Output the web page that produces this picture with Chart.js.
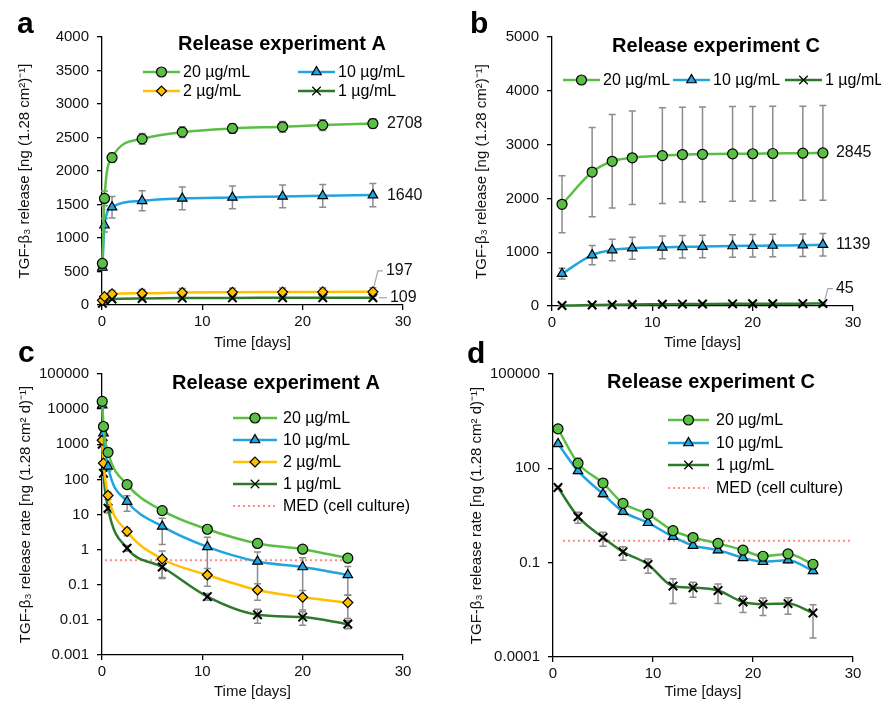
<!DOCTYPE html>
<html>
<head>
<meta charset="utf-8">
<script src="https://cdn.jsdelivr.net/npm/chart.js@4.4.0/dist/chart.umd.min.js"></script>
<style>
  body { margin: 0; background: #fff; }
  #wrap { position: relative; width: 881px; height: 705px; overflow: hidden; background: #fff; }
  canvas { position: absolute; }
</style>
</head>
<body>
<div id="wrap">
  <canvas id="cA" width="440" height="352" style="left:0;top:0"></canvas>
  <canvas id="cB" width="441" height="352" style="left:440px;top:0"></canvas>
  <canvas id="cC" width="440" height="375" style="left:0;top:330px"></canvas>
  <canvas id="cD" width="441" height="375" style="left:440px;top:330px"></canvas>
</div>
<script>
const FONT = "'Liberation Sans', Arial, sans-serif";
Chart.defaults.font.family = FONT;
Chart.defaults.color = '#111';

// ---- data ----
const xTicks = [0, 10, 20, 30];
const yTicksA = [0, 500, 1000, 1500, 2000, 2500, 3000, 3500, 4000];
const yTicksB = [0, 1000, 2000, 3000, 4000, 5000];
const yTicksC = [0.001, 0.01, 0.1, 1, 10, 100, 1000, 10000, 100000];
const yTicksD = [0.0001, 0.1, 100, 100000];

// cumulative release, experiment A
const timeA = [0.04, 0.25, 1, 4, 8, 13, 18, 22, 27];
const relA20 = [620, 1590, 2200, 2480, 2580, 2635, 2660, 2685, 2708];
const errA20 = [30, 110, 70, 80, 80, 70, 80, 80, 70];
const relA10 = [560, 1190, 1460, 1555, 1590, 1605, 1620, 1630, 1640];
const errA10 = [40, 100, 160, 150, 170, 170, 170, 170, 175];
const relA2 = [70, 125, 165, 175, 185, 190, 193, 195, 197];
const errA2 = [15, 40, 50, 55, 60, 60, 60, 60, 60];
const relA1 = [25, 65, 90, 98, 103, 106, 107, 108, 109];
const errA1 = [5, 15, 20, 20, 20, 20, 20, 20, 20];

// cumulative release, experiment C
const timeC = [1, 4, 6, 8, 11, 13, 15, 18, 20, 22, 25, 27];
const relC20 = [1890, 2490, 2690, 2755, 2795, 2815, 2820, 2828, 2830, 2835, 2840, 2845];
const errC20 = [530, 830, 870, 870, 890, 880, 880, 880, 880, 880, 875, 880];
const relC10 = [600, 945, 1040, 1075, 1090, 1100, 1105, 1115, 1120, 1125, 1130, 1139];
const errC10 = [100, 180, 200, 205, 210, 210, 210, 210, 210, 210, 210, 210];
const relC1 = [8, 18, 24, 28, 32, 35, 37, 40, 41, 43, 44, 45];
const errC1 = [3, 5, 6, 6, 7, 7, 7, 7, 7, 7, 7, 7];

// release rate, experiment A
const timeRateA = [0.02, 0.15, 0.6, 2.5, 6, 10.5, 15.5, 20, 24.5];
const rateA20 = [16600, 3200, 590, 71, 12.9, 3.8, 1.5, 1.03, 0.57];
const errRateA20 = [2000, 400, 80, 10, 2, 0.5, 0.2, 0.1, 0.08];
const rateA10 = [13000, 2080, 234, 23.4, 4.6, 1.2, 0.46, 0.32, 0.19];
const errRateA10 = [1500, 300, 60, 11, 3.2, 1.05, 0.4, 0.27, 0.14];
const rateA2 = [1300, 290, 35, 3.3, 0.54, 0.19, 0.071, 0.044, 0.031];
const errRateA2 = [150, 40, 8, 0.8, 0.38, 0.1, 0.035, 0.025, 0.02];
const rateA1 = [1000, 150, 15, 1.1, 0.32, 0.046, 0.014, 0.012, 0.0076];
const errRateA1 = [100, 20, 4, 0.2, 0.17, 0.01, 0.006, 0.005, 0.002];

// release rate, experiment C
const timeRateC = [0.5, 2.5, 5, 7, 9.5, 12, 14, 16.5, 19, 21, 23.5, 26];
const rateC20 = [1800, 145, 34, 7.7, 3.5, 1.04, 0.63, 0.41, 0.25, 0.16, 0.19, 0.089];
const errRateC20 = [100, 70, 8, 1.5, 0.6, 0.2, 0.1, 0.06, 0.04, 0.03, 0.03, 0.015];
const rateC10 = [600, 83, 15.3, 4.2, 1.86, 0.67, 0.35, 0.25, 0.143, 0.107, 0.12, 0.055];
const errRateC10 = [50, 15, 3, 0.8, 0.3, 0.1, 0.05, 0.04, 0.02, 0.015, 0.02, 0.01];
const rateC1 = [24.5, 2.9, 0.63, 0.22, 0.088, 0.018, 0.016, 0.013, 0.0056, 0.0048, 0.005, 0.0025];
const errRateC1 = [2, 1.1, 0.3, 0.1, 0.042, 0.013, 0.008, 0.008, 0.003, 0.0027, 0.0027, 0.0021];

// minimal effective dose line
const medTimesA = [0.3, 24.5];
const medTimesC = [1, 30];
const medValue = [0.5, 0.5];

const GREEN = '#5CBF45', BLUE = '#22A4DE', YELLOW = '#FFC000', DKGREEN = '#2E7A2B', MEDRED = '#FF8A8A';

function pts(xs, ys) { return xs.map((x, i) => ({ x: x, y: ys[i] })); }

function series(label, xs, ys, errs, color, style, endLabel) {
  const fills = { circle: GREEN, triangle: BLUE, rectRot: YELLOW, crossRot: '#000' };
  const radius = { circle: 5, triangle: 5.5, rectRot: 5, crossRot: 6 };
  return {
    label: label,
    data: pts(xs, ys),
    errors: errs,
    endLabel: endLabel,
    borderColor: color,
    borderWidth: 2.5,
    cubicInterpolationMode: 'monotone',
    pointStyle: style,
    pointRadius: radius[style],
    pointBackgroundColor: fills[style],
    pointBorderColor: '#000',
    pointBorderWidth: style === 'crossRot' ? 2 : 1.2,
    clip: false
  };
}

function medSeries(xs) {
  return {
    label: 'MED (cell culture)',
    data: pts(xs, medValue),
    borderColor: MEDRED,
    borderWidth: 2,
    borderDash: [2, 3],
    pointRadius: 0,
    clip: false
  };
}

// error bars drawn under the lines
const errorBars = {
  id: 'errorBars',
  beforeDatasetsDraw(chart) {
    const ctx = chart.ctx, xs = chart.scales.x, ys = chart.scales.y;
    ctx.save();
    ctx.strokeStyle = '#8C8C8C';
    ctx.lineWidth = 1.5;
    chart.data.datasets.forEach(ds => {
      if (!ds.errors) return;
      ds.data.forEach((p, i) => {
        const e = ds.errors[i];
        const x = xs.getPixelForValue(p.x);
        let lo = p.y - e;
        if (lo <= 0) lo = ys.min;
        const y1 = ys.getPixelForValue(p.y + e), y2 = ys.getPixelForValue(lo);
        ctx.beginPath();
        ctx.moveTo(x, y1); ctx.lineTo(x, y2);
        ctx.moveTo(x - 3.5, y1); ctx.lineTo(x + 3.5, y1);
        ctx.moveTo(x - 3.5, y2); ctx.lineTo(x + 3.5, y2);
        ctx.stroke();
      });
    });
    ctx.restore();
  }
};

// panel letter, title, legend and end labels
function deco(cfg) {
  return {
    id: 'deco',
    afterDraw(chart) {
      const ctx = chart.ctx, xs = chart.scales.x, ys = chart.scales.y;
      const dss = chart.data.datasets;
      ctx.save();
      ctx.fillStyle = '#000';
      ctx.font = 'bold 30px ' + FONT;
      ctx.textBaseline = 'alphabetic';
      ctx.textAlign = 'left';
      ctx.fillText(cfg.letter, cfg.letterPos[0], cfg.letterPos[1]);

      ctx.font = 'bold 20px ' + FONT;
      ctx.textAlign = 'center';
      ctx.textBaseline = 'middle';
      ctx.fillText(cfg.title, cfg.titlePos[0], cfg.titlePos[1]);

      // legend
      ctx.font = '16px ' + FONT;
      ctx.textAlign = 'left';
      cfg.legend.forEach(([i, x, y]) => {
        const ds = dss[i];
        ctx.save();
        ctx.strokeStyle = ds.borderColor;
        ctx.lineWidth = ds.borderWidth;
        if (ds.borderDash) ctx.setLineDash(ds.borderDash);
        ctx.beginPath();
        ctx.moveTo(x, y); ctx.lineTo(x + cfg.lineLen, y);
        ctx.stroke();
        ctx.restore();
        if (ds.pointRadius > 0) {
          ctx.save();
          ctx.fillStyle = ds.pointBackgroundColor;
          ctx.strokeStyle = ds.pointBorderColor;
          Chart.helpers.drawPoint(ctx, {
            pointStyle: ds.pointStyle, radius: ds.pointRadius,
            borderWidth: ds.pointBorderWidth, rotation: 0
          }, x + cfg.lineLen / 2, y);
          ctx.restore();
        }
        ctx.fillStyle = '#000';
        ctx.fillText(ds.label, x + cfg.lineLen + cfg.gap, y + 1);
      });

      // value labels at the last point
      dss.forEach(ds => {
        if (!ds.endLabel) return;
        const p = ds.data[ds.data.length - 1];
        const px = xs.getPixelForValue(p.x), py = ys.getPixelForValue(p.y);
        const L = ds.endLabel;
        if (L.leader) {
          ctx.save();
          ctx.strokeStyle = '#A6A6A6';
          ctx.lineWidth = 1.2;
          ctx.beginPath();
          L.leader.forEach(([dx, dy], k) => {
            if (k === 0) ctx.moveTo(px + dx, py + dy); else ctx.lineTo(px + dx, py + dy);
          });
          ctx.stroke();
          ctx.restore();
        }
        ctx.fillStyle = '#111';
        ctx.font = '16px ' + FONT;
        ctx.textAlign = 'left';
        ctx.textBaseline = 'middle';
        ctx.fillText(String(p.y), px + L.dx, py + (L.dy || 0));
      });
      ctx.restore();
    }
  };
}

function axes(cfg) {
  const tickFont = { size: 15 };
  const grid = { display: true, drawOnChartArea: false, drawTicks: true, tickLength: 5, color: '#000', tickColor: '#000', lineWidth: 1.3 };
  const border = { display: true, color: '#000', width: 1.3 };
  return {
    x: {
      type: 'linear', min: 0, max: 30,
      afterBuildTicks: s => { s.ticks = xTicks.map(v => ({ value: v })); },
      afterFit: s => { s.height = cfg.xH; },
      ticks: { font: tickFont, color: '#111', padding: 3, maxRotation: 0, callback: v => String(v) },
      grid: grid, border: border,
      title: { display: true, text: 'Time [days]', font: { size: 15 }, color: '#111', padding: { top: 0, bottom: 0 } }
    },
    y: {
      type: cfg.log ? 'logarithmic' : 'linear',
      min: cfg.yTicks[0], max: cfg.yTicks[cfg.yTicks.length - 1],
      afterBuildTicks: s => { s.ticks = cfg.yTicks.map(v => ({ value: v })); },
      afterFit: s => { s.width = cfg.yW; },
      ticks: { font: tickFont, color: '#111', padding: 8, callback: v => String(v) },
      grid: grid, border: border,
      title: { display: true, text: cfg.yTitle, font: { size: 15 }, color: '#111', padding: { top: 0, bottom: 0 } }
    }
  };
}

function makeChart(id, datasets, cfg) {
  new Chart(document.getElementById(id), {
    type: 'line',
    data: { datasets: datasets },
    options: {
      responsive: false,
      animation: false,
      devicePixelRatio: 1,
      layout: { padding: cfg.pad },
      plugins: { legend: { display: false }, tooltip: { enabled: false } },
      scales: axes(cfg)
    },
    plugins: [errorBars, deco(cfg)]
  });
}

const releaseTitle = 'TGF-β₃ release [ng (1.28 cm²)⁻¹]';
const rateTitle = 'TGF-β₃ release rate [ng (1.28 cm² d)⁻¹]';

makeChart('cA', [
  series('20 µg/mL', timeA, relA20, errA20, GREEN, 'circle', { dx: 14 }),
  series('10 µg/mL', timeA, relA10, errA10, BLUE, 'triangle', { dx: 14 }),
  series('2 µg/mL', timeA, relA2, errA2, YELLOW, 'rectRot', { dx: 13, dy: -21, leader: [[1, -5], [5, -21], [10, -21]] }),
  series('1 µg/mL', timeA, relA1, errA1, DKGREEN, 'crossRot', { dx: 17, leader: [[6, 0], [14, 0]] })
], {
  pad: { left: 16, right: 37, top: 37, bottom: 0 }, yW: 86, xH: 47,
  yTicks: yTicksA, yTitle: releaseTitle,
  letter: 'a', letterPos: [17, 33], title: 'Release experiment A', titlePos: [282, 44],
  legend: [[0, 143, 72], [1, 298, 72], [2, 143, 91], [3, 298, 91]], lineLen: 37, gap: 3
});

makeChart('cB', [
  series('20 µg/mL', timeC, relC20, errC20, GREEN, 'circle', { dx: 13 }),
  series('10 µg/mL', timeC, relC10, errC10, BLUE, 'triangle', { dx: 13 }),
  series('1 µg/mL', timeC, relC1, errC1, DKGREEN, 'crossRot', { dx: 13, dy: -15, leader: [[2, -4], [5, -15], [10, -15]] })
], {
  pad: { left: 33, right: 28, top: 37, bottom: 0 }, yW: 79, xH: 46,
  yTicks: yTicksB, yTitle: releaseTitle,
  letter: 'b', letterPos: [30, 33], title: 'Release experiment C', titlePos: [276, 46],
  legend: [[0, 123, 80], [1, 233, 80], [2, 345, 80]], lineLen: 37, gap: 3
});

makeChart('cC', [
  series('20 µg/mL', timeRateA, rateA20, errRateA20, GREEN, 'circle'),
  series('10 µg/mL', timeRateA, rateA10, errRateA10, BLUE, 'triangle'),
  series('2 µg/mL', timeRateA, rateA2, errRateA2, YELLOW, 'rectRot'),
  series('1 µg/mL', timeRateA, rateA1, errRateA1, DKGREEN, 'crossRot'),
  medSeries(medTimesA)
], {
  log: true,
  pad: { left: 17, right: 37, top: 44, bottom: 4 }, yW: 85, xH: 46,
  yTicks: yTicksC, yTitle: rateTitle,
  letter: 'c', letterPos: [18, 32], title: 'Release experiment A', titlePos: [276, 53],
  legend: [[0, 233, 88], [1, 233, 110], [2, 233, 132], [3, 233, 154], [4, 233, 176]], lineLen: 44, gap: 6
});

makeChart('cD', [
  series('20 µg/mL', timeRateC, rateC20, errRateC20, GREEN, 'circle'),
  series('10 µg/mL', timeRateC, rateC10, errRateC10, BLUE, 'triangle'),
  series('1 µg/mL', timeRateC, rateC1, errRateC1, DKGREEN, 'crossRot'),
  medSeries(medTimesC)
], {
  log: true,
  pad: { left: 28, right: 28, top: 44, bottom: 4 }, yW: 85, xH: 44,
  yTicks: yTicksD, yTitle: rateTitle,
  letter: 'd', letterPos: [27, 33], title: 'Release experiment C', titlePos: [271, 52],
  legend: [[0, 228, 90], [1, 228, 113], [2, 228, 135], [3, 228, 158]], lineLen: 41, gap: 7
});
</script>
</body>
</html>
